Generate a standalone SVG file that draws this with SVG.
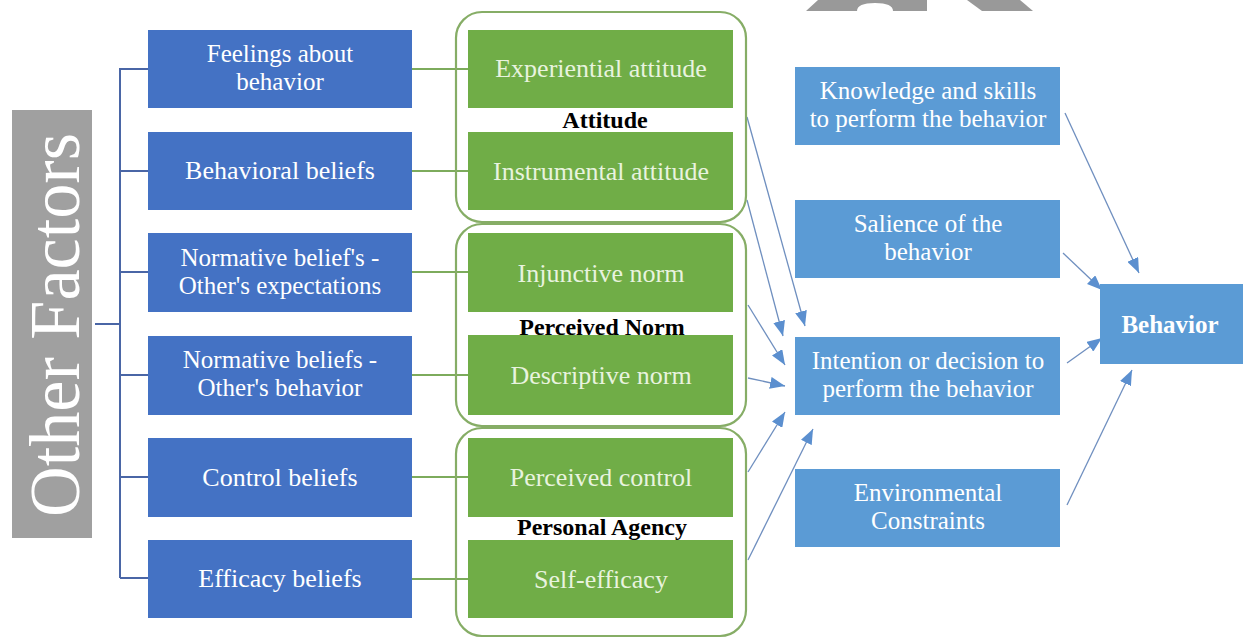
<svg xmlns="http://www.w3.org/2000/svg" width="1243" height="638" viewBox="0 0 1243 638">
<style>
.bl{fill:#4472C4}
.gr{fill:#70AD47}
.rb{fill:#5B9BD5}
.grp{fill:none;stroke:#86ad66;stroke-width:2.2}
.t{font-family:"Liberation Serif","Times New Roman",serif;font-size:25px;text-anchor:middle}
.t1{font-size:26px}
.tw{fill:#ffffff}
.tg{fill:#e8f3df}
.lab{font-family:"Liberation Serif","Times New Roman",serif;font-size:24px;font-weight:bold;text-anchor:middle;fill:#000}
.br{stroke:#4a66a6;stroke-width:2;fill:none}
.gl{stroke:#7dab5c;stroke-width:2;fill:none}
.ar{stroke:#6f8fbf;stroke-width:1.3;fill:none;marker-end:url(#ah)}
</style>
<defs>
<marker id="ah" markerUnits="userSpaceOnUse" markerWidth="15" markerHeight="12" refX="15" refY="6" orient="auto">
<path d="M0,0 L15,6 L0,12 Z" fill="#5b8fcf"/>
</marker>
</defs>
<rect width="1243" height="638" fill="#ffffff"/>
<g id="watermark" fill="#999999">
<path d="M806,11 L818,0 L927,0 L927,11 L893,11 Q893,3 875,3 Q857,3 857,11 Z"/>
<path d="M967,0 L1020,0 L1033,11 L982,11 Z"/>
</g>
<g id="other-factors">
<rect x="12" y="110" width="80" height="428" fill="#a0a0a0"/>
<text transform="translate(79,325) rotate(-90)" font-family="Liberation Serif, Times New Roman, serif" font-size="72" fill="#ffffff" text-anchor="middle" textLength="384" lengthAdjust="spacingAndGlyphs">Other Factors</text>
</g>
<g id="connectors">
<path class="br" d="M95,324 H120 M120,68 V578 M120,69 H148 M120,171 H148 M120,272 H148 M120,375 H148 M120,477 H148 M120,578 H148"/>
<path class="gl" d="M412,69 H468 M412,171 H468 M412,272 H468 M412,375 H468 M412,477 H468 M412,579 H468"/>
<line class="ar" x1="747" y1="117" x2="805" y2="326"/>
<line class="ar" x1="747" y1="200" x2="783" y2="336"/>
<line class="ar" x1="748" y1="305" x2="785" y2="365"/>
<line class="ar" x1="748" y1="378" x2="785" y2="386"/>
<line class="ar" x1="748" y1="472" x2="785" y2="412"/>
<line class="ar" x1="748" y1="560" x2="813" y2="429"/>
<line class="ar" x1="1065" y1="113" x2="1139" y2="273"/>
<line class="ar" x1="1063" y1="253" x2="1102" y2="290"/>
<line class="ar" x1="1067" y1="363" x2="1102" y2="338"/>
<line class="ar" x1="1067" y1="505" x2="1132" y2="370"/>
</g>
<g id="feelings"><rect class="bl" x="148" y="30" width="264" height="78"/><text class="t tw" x="280" y="62">Feelings about</text><text class="t tw" x="280" y="90">behavior</text></g>
<g id="behavioral-beliefs"><rect class="bl" x="148" y="132" width="264" height="78"/><text class="t t1 tw" x="280" y="179">Behavioral beliefs</text></g>
<g id="normative-expectations"><rect class="bl" x="148" y="233" width="264" height="79"/><text class="t tw" x="280" y="266">Normative belief's -</text><text class="t tw" x="280" y="294">Other's expectations</text></g>
<g id="normative-behavior"><rect class="bl" x="148" y="336" width="264" height="79"/><text class="t tw" x="280" y="368">Normative beliefs -</text><text class="t tw" x="280" y="396">Other's behavior</text></g>
<g id="control-beliefs"><rect class="bl" x="148" y="438" width="264" height="79"/><text class="t t1 tw" x="280" y="486">Control beliefs</text></g>
<g id="efficacy-beliefs"><rect class="bl" x="148" y="540" width="264" height="78"/><text class="t t1 tw" x="280" y="587">Efficacy beliefs</text></g>
<g id="attitude-group"><rect class="grp" x="456" y="12" width="290" height="210" rx="26"/></g>
<g id="norm-group"><rect class="grp" x="456" y="224" width="290" height="202" rx="26"/></g>
<g id="agency-group"><rect class="grp" x="456" y="428" width="290" height="208" rx="26"/></g>
<g id="experiential"><rect class="gr" x="468" y="30" width="265" height="78"/><text class="t t1 tg" x="601" y="77">Experiential attitude</text></g>
<g id="instrumental"><rect class="gr" x="468" y="132" width="265" height="78"/><text class="t t1 tg" x="601" y="180">Instrumental attitude</text></g>
<g id="injunctive"><rect class="gr" x="468" y="233" width="265" height="79"/><text class="t t1 tg" x="601" y="282">Injunctive norm</text></g>
<g id="descriptive"><rect class="gr" x="468" y="335" width="265" height="80"/><text class="t t1 tg" x="601" y="384">Descriptive norm</text></g>
<g id="perceived-control"><rect class="gr" x="468" y="438" width="265" height="79"/><text class="t t1 tg" x="601" y="486">Perceived control</text></g>
<g id="self-efficacy"><rect class="gr" x="468" y="540" width="265" height="78"/><text class="t t1 tg" x="601" y="588">Self-efficacy</text></g>
<g id="labels">
<text class="lab" x="605" y="128">Attitude</text>
<text class="lab" x="602" y="335">Perceived Norm</text>
<text class="lab" x="602" y="535">Personal Agency</text>
</g>
<g id="knowledge"><rect class="rb" x="795" y="67" width="265" height="78"/><text class="t tw" x="928" y="99">Knowledge and skills</text><text class="t tw" x="928" y="127">to perform the behavior</text></g>
<g id="salience"><rect class="rb" x="795" y="200" width="265" height="78"/><text class="t tw" x="928" y="232">Salience of the</text><text class="t tw" x="928" y="260">behavior</text></g>
<g id="intention"><rect class="rb" x="795" y="337" width="265" height="78"/><text class="t tw" x="928" y="369">Intention or decision to</text><text class="t tw" x="928" y="397">perform the behavior</text></g>
<g id="environmental"><rect class="rb" x="795" y="469" width="265" height="78"/><text class="t tw" x="928" y="501">Environmental</text><text class="t tw" x="928" y="529">Constraints</text></g>
<g id="behavior"><rect class="rb" x="1100" y="284" width="143" height="80"/><text x="1170" y="333" font-family="Liberation Serif, Times New Roman, serif" font-size="25" font-weight="bold" fill="#ffffff" text-anchor="middle">Behavior</text></g>
</svg>
